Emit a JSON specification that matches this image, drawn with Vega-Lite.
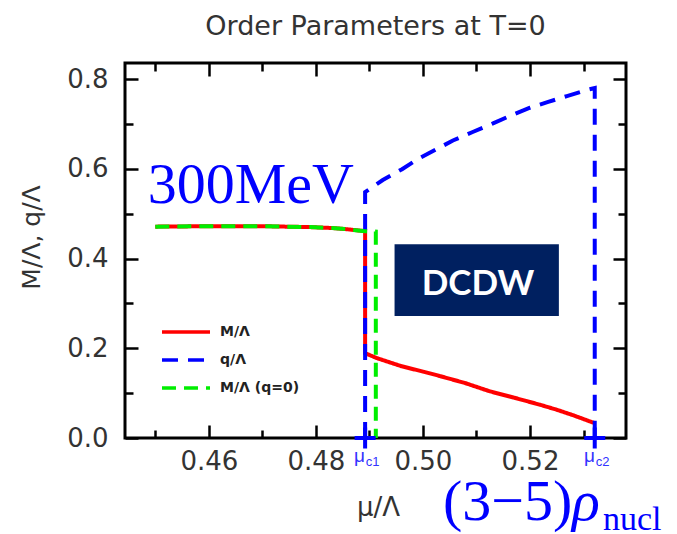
{
  "$schema": "https://vega.github.io/schema/vega-lite/v6.json",
  "autosize": {"type": "none"},
  "width": 501,
  "height": 375,
  "padding": {"left": 125, "top": 63, "right": 51, "bottom": 96},
  "background": "white",
  "title": {"text": "Order Parameters at T=0", "anchor": "middle", "frame": "group", "baseline": "alphabetic", "offset": 0, "font": "DejaVu Sans", "fontSize": 27, "fontWeight": "normal", "color": "#333"},
  "config": {
    "view": {"stroke": "black", "strokeWidth": 3},
    "axis": {"grid": false, "domain": false, "tickColor": "black", "tickWidth": 2.5, "labelOverlap": false, "labelFlush": false}
  },
  "datasets": {
    "curves": [
      {"series": "M/Λ", "o": 1, "x": 0.4500, "y": 0.471},
      {"series": "M/Λ", "o": 2, "x": 0.4600, "y": 0.472},
      {"series": "M/Λ", "o": 3, "x": 0.4700, "y": 0.472},
      {"series": "M/Λ", "o": 4, "x": 0.4790, "y": 0.470},
      {"series": "M/Λ", "o": 5, "x": 0.4830, "y": 0.468},
      {"series": "M/Λ", "o": 6, "x": 0.4860, "y": 0.465},
      {"series": "M/Λ", "o": 7, "x": 0.4892, "y": 0.461},
      {"series": "M/Λ", "o": 8, "x": 0.4892, "y": 0.189},
      {"series": "M/Λ", "o": 9, "x": 0.4914, "y": 0.178},
      {"series": "M/Λ", "o": 10, "x": 0.4960, "y": 0.160},
      {"series": "M/Λ", "o": 11, "x": 0.5000, "y": 0.148},
      {"series": "M/Λ", "o": 12, "x": 0.5032, "y": 0.138},
      {"series": "M/Λ", "o": 13, "x": 0.5080, "y": 0.122},
      {"series": "M/Λ", "o": 14, "x": 0.5125, "y": 0.104},
      {"series": "M/Λ", "o": 15, "x": 0.5170, "y": 0.090},
      {"series": "M/Λ", "o": 16, "x": 0.5219, "y": 0.074},
      {"series": "M/Λ", "o": 17, "x": 0.5250, "y": 0.063},
      {"series": "M/Λ", "o": 18, "x": 0.5280, "y": 0.051},
      {"series": "M/Λ", "o": 19, "x": 0.5321, "y": 0.033},
      {"series": "q/Λ", "o": 1, "x": 0.4892, "y": 0.0},
      {"series": "q/Λ", "o": 2, "x": 0.4892, "y": 0.548},
      {"series": "q/Λ", "o": 3, "x": 0.4925, "y": 0.575},
      {"series": "q/Λ", "o": 4, "x": 0.4961, "y": 0.599},
      {"series": "q/Λ", "o": 5, "x": 0.4991, "y": 0.622},
      {"series": "q/Λ", "o": 6, "x": 0.5026, "y": 0.644},
      {"series": "q/Λ", "o": 7, "x": 0.5056, "y": 0.663},
      {"series": "q/Λ", "o": 8, "x": 0.5093, "y": 0.682},
      {"series": "q/Λ", "o": 9, "x": 0.5131, "y": 0.701},
      {"series": "q/Λ", "o": 10, "x": 0.5163, "y": 0.718},
      {"series": "q/Λ", "o": 11, "x": 0.5200, "y": 0.736},
      {"series": "q/Λ", "o": 12, "x": 0.5234, "y": 0.749},
      {"series": "q/Λ", "o": 13, "x": 0.5269, "y": 0.762},
      {"series": "q/Λ", "o": 14, "x": 0.5307, "y": 0.776},
      {"series": "q/Λ", "o": 15, "x": 0.5321, "y": 0.780},
      {"series": "q/Λ", "o": 16, "x": 0.5321, "y": 0.0},
      {"series": "M/Λ (q=0)", "o": 1, "x": 0.4500, "y": 0.471},
      {"series": "M/Λ (q=0)", "o": 2, "x": 0.4600, "y": 0.472},
      {"series": "M/Λ (q=0)", "o": 3, "x": 0.4700, "y": 0.472},
      {"series": "M/Λ (q=0)", "o": 4, "x": 0.4790, "y": 0.470},
      {"series": "M/Λ (q=0)", "o": 5, "x": 0.4830, "y": 0.468},
      {"series": "M/Λ (q=0)", "o": 6, "x": 0.4860, "y": 0.465},
      {"series": "M/Λ (q=0)", "o": 7, "x": 0.4892, "y": 0.461},
      {"series": "M/Λ (q=0)", "o": 8, "x": 0.4912, "y": 0.460},
      {"series": "M/Λ (q=0)", "o": 9, "x": 0.4912, "y": 0.0}
    ]
  },
  "resolve": {"axis": {"x": "independent", "y": "independent"}},
  "layer": [
    {
      "data": {"name": "curves"},
      "mark": {"type": "line", "strokeWidth": 4, "strokeCap": "butt"},
      "encoding": {
        "x": {"field": "x", "type": "quantitative", "scale": {"domain": [0.44434, 0.53794], "nice": false, "zero": false},
          "axis": {"orient": "bottom", "values": [0.46, 0.48, 0.50, 0.52], "format": ".2f", "tickSize": -13, "labelPadding": 23, "labelFont": "DejaVu Sans", "labelFontSize": 26, "labelColor": "#333", "title": "μ/Λ", "titleFont": "DejaVu Sans", "titleFontSize": 26, "titleFontWeight": "normal", "titleColor": "#333", "titleX": 253, "titleY": 77, "titleBaseline": "alphabetic", "titleAlign": "center"}},
        "y": {"field": "y", "type": "quantitative", "scale": {"domain": [0, 0.8357], "nice": false},
          "axis": {"orient": "left", "values": [0, 0.2, 0.4, 0.6, 0.8], "format": ".1f", "tickSize": -13, "labelPadding": 30, "labelFont": "DejaVu Sans", "labelFontSize": 26, "labelColor": "#333", "title": "M/Λ,  q/Λ", "titleFont": "DejaVu Sans", "titleFontSize": 25, "titleFontWeight": "normal", "titleColor": "#333", "titleX": -94, "titleY": 174, "titleAngle": 270, "titleAlign": "center", "titleBaseline": "middle"}},
        "order": {"field": "o", "type": "quantitative"},
        "color": {"field": "series", "type": "nominal", "scale": {"domain": ["M/Λ", "q/Λ", "M/Λ (q=0)"], "range": ["#ff0000", "#0000ff", "#00ee00"]},
          "legend": {"title": null, "orient": "none", "legendX": 35, "legendY": 255, "symbolType": "stroke", "symbolSize": 2304, "symbolStrokeWidth": 3.5, "clipHeight": 28, "rowPadding": 0, "labelFont": "DejaVu Sans", "labelFontWeight": "bold", "labelFontSize": 14, "labelColor": "#222", "labelOffset": 8}},
        "strokeDash": {"field": "series", "type": "nominal", "scale": {"domain": ["M/Λ", "q/Λ", "M/Λ (q=0)"], "range": [[1, 0], [16, 10], [14, 8]]},
          "legend": {"title": null, "orient": "none", "legendX": 35, "legendY": 255, "symbolType": "stroke", "symbolSize": 2304, "symbolStrokeWidth": 3.5, "clipHeight": 28, "rowPadding": 0, "labelFont": "DejaVu Sans", "labelFontWeight": "bold", "labelFontSize": 14, "labelColor": "#222", "labelOffset": 8}}
      }
    },
    {
      "data": {"name": "curves"},
      "mark": {"type": "point", "opacity": 0},
      "encoding": {
        "x": {"field": "x", "type": "quantitative", "scale": {"domain": [0.44434, 0.53794], "nice": false, "zero": false},
          "axis": {"orient": "bottom", "values": [0.45, 0.47, 0.49, 0.51, 0.53], "tickSize": -8, "labels": false, "title": null}},
        "y": {"field": "y", "type": "quantitative", "scale": {"domain": [0, 0.8357], "nice": false},
          "axis": {"orient": "left", "values": [0.1, 0.3, 0.5, 0.7], "tickSize": -8, "labels": false, "title": null}}
      }
    },
    {
      "data": {"name": "curves"},
      "mark": {"type": "point", "opacity": 0},
      "encoding": {
        "x": {"field": "x", "type": "quantitative", "scale": {"domain": [0.44434, 0.53794], "nice": false, "zero": false},
          "axis": {"orient": "top", "values": [0.46, 0.48, 0.50, 0.52], "tickSize": -13, "labels": false, "title": null}},
        "y": {"field": "y", "type": "quantitative", "scale": {"domain": [0, 0.8357], "nice": false},
          "axis": {"orient": "right", "values": [0, 0.2, 0.4, 0.6, 0.8], "tickSize": -13, "labels": false, "title": null}}
      }
    },
    {
      "data": {"name": "curves"},
      "mark": {"type": "point", "opacity": 0},
      "encoding": {
        "x": {"field": "x", "type": "quantitative", "scale": {"domain": [0.44434, 0.53794], "nice": false, "zero": false},
          "axis": {"orient": "top", "values": [0.45, 0.47, 0.49, 0.51, 0.53], "tickSize": -8, "labels": false, "title": null}},
        "y": {"field": "y", "type": "quantitative", "scale": {"domain": [0, 0.8357], "nice": false},
          "axis": {"orient": "right", "values": [0.1, 0.3, 0.5, 0.7], "tickSize": -8, "labels": false, "title": null}}
      }
    },
    {
      "data": {"values": [{"label": "μc1", "x": 0.4892, "y": 0}, {"label": "μc2", "x": 0.5321, "y": 0}]},
      "mark": {"type": "point", "shape": "M-1,0H1M0,-1V1", "size": 441, "filled": false, "stroke": "#0000ff", "strokeWidth": 4, "opacity": 1},
      "encoding": {
        "x": {"field": "x", "type": "quantitative", "axis": null},
        "y": {"field": "y", "type": "quantitative", "axis": null}
      }
    },
    {
      "data": {"values": [{"x": 0.4947, "x2": 0.5254, "y": 0.432, "y2": 0.272}]},
      "mark": {"type": "rect", "color": "#002060"},
      "encoding": {
        "x": {"field": "x", "type": "quantitative", "axis": null},
        "x2": {"field": "x2"},
        "y": {"field": "y", "type": "quantitative", "axis": null},
        "y2": {"field": "y2"}
      }
    },
    {
      "data": {"values": [{"text": "DCDW", "x": 0.5103, "y": 0.319}]},
      "mark": {"type": "text", "font": "Lato", "fontWeight": "bold", "fontSize": 35, "color": "white", "align": "center", "baseline": "alphabetic"},
      "encoding": {
        "x": {"field": "x", "type": "quantitative", "axis": null},
        "y": {"field": "y", "type": "quantitative", "axis": null},
        "text": {"field": "text"}
      }
    },
    {
      "data": {"values": [{"text": "300MeV", "x": 0.4486, "y": 0.524}, {"text": "(3−5)", "x": 0.50374, "y": -0.1827}]},
      "mark": {"type": "text", "font": "Liberation Serif", "fontSize": 58, "color": "#0000ff", "align": "left", "baseline": "alphabetic"},
      "encoding": {
        "x": {"field": "x", "type": "quantitative", "axis": null},
        "y": {"field": "y", "type": "quantitative", "axis": null},
        "text": {"field": "text"}
      }
    },
    {
      "data": {"values": [{"text": "ρ", "x": 0.52785, "y": -0.1827}]},
      "mark": {"type": "text", "font": "Liberation Serif", "fontStyle": "italic", "fontSize": 58, "color": "#0000ff", "align": "left", "baseline": "alphabetic"},
      "encoding": {
        "x": {"field": "x", "type": "quantitative", "axis": null},
        "y": {"field": "y", "type": "quantitative", "axis": null},
        "text": {"field": "text"}
      }
    },
    {
      "data": {"values": [{"text": "nucl", "x": 0.53364, "y": -0.205}]},
      "mark": {"type": "text", "font": "Liberation Serif", "fontSize": 34, "color": "#0000ff", "align": "left", "baseline": "alphabetic"},
      "encoding": {
        "x": {"field": "x", "type": "quantitative", "axis": null},
        "y": {"field": "y", "type": "quantitative", "axis": null},
        "text": {"field": "text"}
      }
    },
    {
      "data": {"values": [{"text": "μ", "x": 0.48710, "y": -0.0535}, {"text": "μ", "x": 0.53010, "y": -0.0535}]},
      "mark": {"type": "text", "font": "Liberation Sans", "fontSize": 19, "color": "#3333ff", "align": "left", "baseline": "alphabetic"},
      "encoding": {
        "x": {"field": "x", "type": "quantitative", "axis": null},
        "y": {"field": "y", "type": "quantitative", "axis": null},
        "text": {"field": "text"}
      }
    },
    {
      "data": {"values": [{"text": "c1", "x": 0.48930, "y": -0.062}, {"text": "c2", "x": 0.53230, "y": -0.062}]},
      "mark": {"type": "text", "font": "Liberation Sans", "fontSize": 13, "color": "#3333ff", "align": "left", "baseline": "alphabetic"},
      "encoding": {
        "x": {"field": "x", "type": "quantitative", "axis": null},
        "y": {"field": "y", "type": "quantitative", "axis": null},
        "text": {"field": "text"}
      }
    }
  ]
}
